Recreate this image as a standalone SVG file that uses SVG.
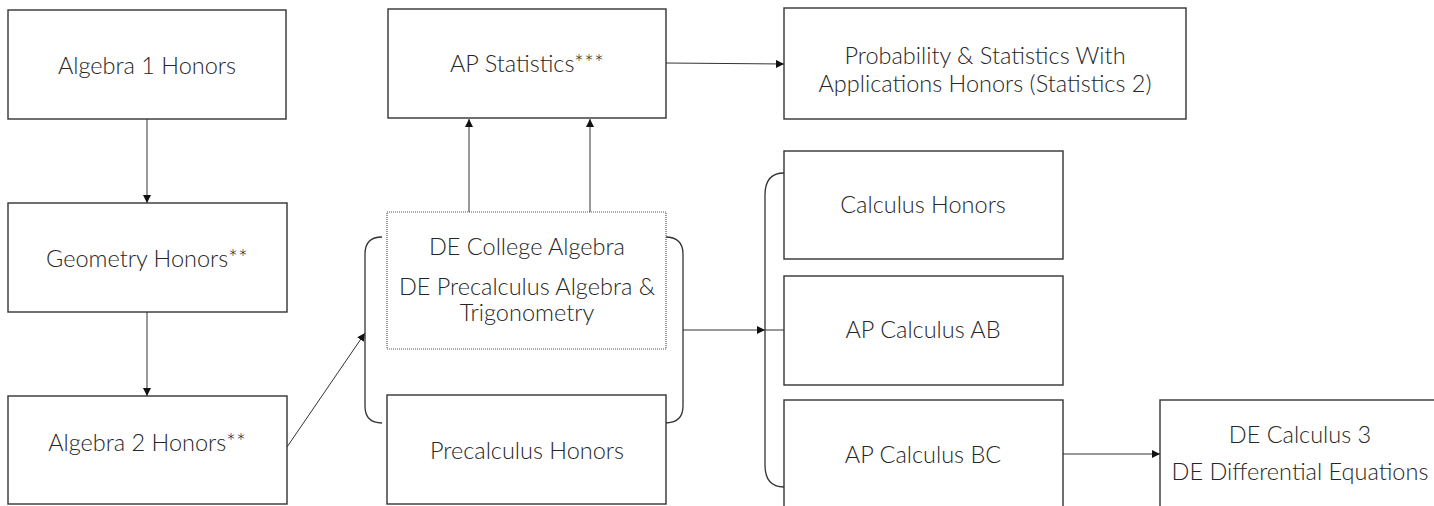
<svg xmlns="http://www.w3.org/2000/svg" width="1434" height="506" viewBox="0 0 1434 506">
<defs>
<style>
.box{fill:#fff;stroke:#333;stroke-width:1.4}
.dot{fill:#fff;stroke:#555;stroke-width:1.2;stroke-dasharray:1 1}
.t{font-family:Lato,"Liberation Sans",sans-serif;font-weight:300;font-size:23.5px;fill:#262626;text-anchor:middle}
.c{fill:none;stroke:#333;stroke-width:1}
.br{fill:none;stroke:#333;stroke-width:1.3}
</style>
<marker id="ah" viewBox="0 0 10 10" refX="10" refY="5" markerWidth="8" markerHeight="8" markerUnits="userSpaceOnUse" orient="auto">
<path d="M0,0 L10,5 L0,10 Z" fill="#111"/>
</marker>
</defs>
<rect width="1434" height="506" fill="#fff"/>
<g id="connectors">
<line class="c" x1="147" y1="119" x2="147" y2="203" marker-end="url(#ah)"/>
<line class="c" x1="147" y1="312" x2="147" y2="396" marker-end="url(#ah)"/>
<line class="c" x1="287" y1="447" x2="365" y2="333" marker-end="url(#ah)"/>
<line class="c" x1="469" y1="212" x2="469" y2="119" marker-end="url(#ah)"/>
<line class="c" x1="590" y1="212" x2="590" y2="119" marker-end="url(#ah)"/>
<line class="c" x1="666" y1="63" x2="784" y2="64" marker-end="url(#ah)"/>
<line class="c" x1="683" y1="330" x2="765" y2="330" marker-end="url(#ah)"/>
<line class="c" x1="765" y1="330" x2="784" y2="330"/>
<line class="c" x1="1063" y1="454" x2="1160" y2="454" marker-end="url(#ah)"/>
<path class="br" d="M382,237 Q365,237 365,254 L365,406 Q365,423 382,423"/>
<path class="br" d="M665,237 Q683,237 683,254 L683,406 Q683,423 665,423"/>
<path class="br" d="M784,173 Q765,173 765,195 L765,465 Q765,487 784,487"/>
</g>
<g id="n-alg1"><rect class="box" x="8" y="10" width="278" height="109"/><text class="t" x="147" y="74">Algebra 1 Honors</text></g>
<g id="n-geo"><rect class="box" x="8" y="203" width="279" height="109"/><text class="t" x="147" y="267">Geometry Honors**</text></g>
<g id="n-alg2"><rect class="box" x="8" y="396" width="279" height="108"/><text class="t" x="147" y="451">Algebra 2 Honors**</text></g>
<g id="n-apstat"><rect class="box" x="388" y="9" width="278" height="109"/><text class="t" x="527" y="72">AP Statistics***</text></g>
<g id="n-prob"><rect class="box" x="784" y="8" width="402" height="111"/><text class="t" x="985" y="64">Probability &amp; Statistics With</text><text class="t" x="985" y="92">Applications Honors (Statistics 2)</text></g>
<g id="n-de"><rect class="dot" x="387" y="212" width="279" height="137"/><text class="t" x="527" y="255">DE College Algebra</text><text class="t" x="527" y="295">DE Precalculus Algebra &amp;</text><text class="t" x="527" y="321">Trigonometry</text></g>
<g id="n-precalc"><rect class="box" x="387" y="395" width="279" height="109"/><text class="t" x="527" y="459">Precalculus Honors</text></g>
<g id="n-calc"><rect class="box" x="784" y="151" width="279" height="108"/><text class="t" x="923" y="213">Calculus Honors</text></g>
<g id="n-ab"><rect class="box" x="784" y="276" width="279" height="109"/><text class="t" x="923" y="338">AP Calculus AB</text></g>
<g id="n-bc"><rect class="box" x="784" y="400" width="279" height="120"/><text class="t" x="923" y="463">AP Calculus BC</text></g>
<g id="n-de3"><rect class="box" x="1160" y="400" width="290" height="120"/><text class="t" x="1300" y="443">DE Calculus 3</text><text class="t" x="1300" y="480">DE Differential Equations</text></g>
</svg>
